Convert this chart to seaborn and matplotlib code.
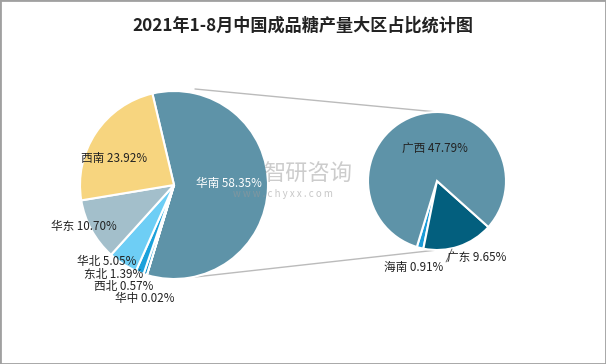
import matplotlib
matplotlib.use("Agg")
import matplotlib.pyplot as plt
import seaborn as sns
from matplotlib.patches import Rectangle

sns.set_theme(style="white")
plt.rcParams['font.family'] = ['Noto Sans CJK SC', 'DejaVu Sans']

title = "2021年1-8月中国成品糖产量大区占比统计图"

# main pie (clockwise from 华南)
main_labels = ["华南", "华中", "西北", "东北", "华北", "华东", "西南"]
main_values = [58.35, 0.02, 0.57, 1.39, 5.05, 10.70, 23.92]
main_colors = ["#5E93A8", "#0B6E99", "#0A8FCB", "#1BA1DB", "#6ECEF5", "#A3BFCB", "#F7D57F"]

# detail pie of 华南 (counter-clockwise)
sub_labels = ["海南", "广东", "广西"]
sub_values = [0.91, 9.65, 47.79]
sub_colors = ["#1A9BD7", "#035F7E", "#5E93A8"]

W, H = 606, 364
fig = plt.figure(figsize=(W / 100, H / 100), dpi=100)
ax = fig.add_axes([0, 0, 1, 1])

def Y(y):
    return H - y

main_c, main_r = (174, Y(185)), 94
sub_c, sub_r = (437, Y(181)), 69

ax.pie(main_values, colors=main_colors, startangle=103.3, counterclock=False,
       center=main_c, radius=main_r, frame=True,
       wedgeprops=dict(edgecolor="white", linewidth=1.5))
ax.pie(sub_values, colors=sub_colors, startangle=253, counterclock=True,
       center=sub_c, radius=sub_r, frame=True,
       wedgeprops=dict(edgecolor="white", linewidth=1.5))
ax.set_xlim(0, W)
ax.set_ylim(0, H)
ax.set_aspect("equal")
ax.axis("off")

# connector lines
ax.plot([195, 437], [Y(89), Y(112)], color="#BBBBBB", lw=1, zorder=0)
ax.plot([195, 437], [Y(277), Y(250)], color="#BBBBBB", lw=1, zorder=0)

fs = 8.4
main_pos = {"华南": (229, 183), "华中": (145, 298.5), "西北": (124, 286.5), "东北": (114, 274.5),
            "华北": (107, 261), "华东": (84, 226), "西南": (114, 158)}
for lab, val in zip(main_labels, main_values):
    x, y = main_pos[lab]
    ax.text(x, Y(y), f"{lab} {val:.2f}%", ha="center", va="center", fontsize=fs,
            color="white" if lab == "华南" else "#222222", zorder=5)

sub_pos = {"海南": (414, 267), "广东": (477, 257), "广西": (435, 148)}
for lab, val in zip(sub_labels, sub_values):
    x, y = sub_pos[lab]
    ax.text(x, Y(y), f"{lab} {val:.2f}%", ha="center", va="center", fontsize=fs,
            color="#222222", zorder=5)
ax.plot([452, 448, 446], [Y(249), Y(258), Y(262)], color="#555555", lw=0.6, zorder=4)

# watermark
ax.text(263, Y(174), "智研咨询", fontsize=16, color="#9A9A9A", alpha=0.5,
        ha="left", va="center", zorder=6)
ax.text(233, Y(194), "w w w . c h y x x . c o m", fontsize=7, color="#9A9A9A", alpha=0.55,
        ha="left", va="center", zorder=6)

fig.text(0.5, 1 - 26 / H, title, ha="center", va="center", fontsize=12.3,
         fontweight="bold", color="#222222")

fig.patches.append(Rectangle((0, 0), 1, 1, transform=fig.transFigure, fill=False,
                             edgecolor="#A0A0A0", lw=2))

fig.savefig("out.png", dpi=100)
